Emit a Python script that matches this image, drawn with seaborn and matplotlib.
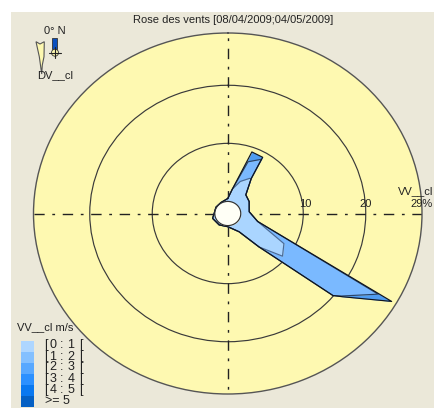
import numpy as np
import pandas as pd
import matplotlib
matplotlib.use("Agg")
import matplotlib.pyplot as plt
from matplotlib.colors import ListedColormap
from matplotlib.patches import Polygon, Rectangle, Circle
import seaborn as sns

# wind direction in degrees, and share (%) of each speed class
directions = [0, 10, 20, 30, 32, 42, 59, 85, 106, 120, 128, 130, 139, 150, 180, 215, 251, 270, 300, 330, 360]
speed_0_1 = [0.5, 2.2, 3.8, 4.9, 5.0, 2.24, 1.92, 1.37, 2.9, 8.3, 9.1, 9.35, 5.55, 1.55, 0.19, 0.32, 0.49, 0.1, 0.1, 0.1, 0.5]
speed_1_2 = [0, 0, 3.6, 3.8, 0, 0, 0, 0, 0, 17.4, 11.9, 10.55, 0, 0, 0, 0, 0, 0, 0, 0, 0]
speed_2_3 = [0, 0, 1.8, 0.4, 0, 0, 0, 0, 0, 2.5, 0.2, 0, 0, 0, 0, 0, 0, 0, 0, 0, 0]

ring_ticks = [10, 20]
r_max = 29
r_hole = -2.08

class_labels = [("0", "1"), ("1", "2"), ("2", "3"), ("3", "4"), ("4", "5")]
legend_colors = ["#aed6ff", "#84c0ff", "#58a8ff", "#2c90ff", "#0a78f0", "#0560c4"]
fill_colors = ["#aad5ff", "#7ab9ff", "#4f9cf0"]
line_colors = ["#4a6a96", "#2a4468", "#10151f"]

sns.set_style("white")
plt.rcParams["font.family"] = ["Liberation Sans", "DejaVu Sans"]

W, H = 434, 408
fig = plt.figure(figsize=(W / 100, H / 100), dpi=100, facecolor="white")

# beige panel behind everything
bg = fig.add_axes([0, 0, 1, 1], zorder=0)
bg.set_xlim(0, W)
bg.set_ylim(H, 0)
bg.axis("off")
bg.add_patch(Rectangle((11, 12), W - 11, H - 12, color="#ebe8d9", lw=0))

# rose, slightly squashed like the original window
ax = fig.add_axes([33.5 / W, (H - 394) / H, 388.5 / W, 361 / H], projection="polar", zorder=1)
ax.set_aspect("auto")
ax.set_theta_zero_location("N")
ax.set_theta_direction(-1)
ax.set_facecolor("#fef9b1")

theta = np.deg2rad(directions)
stack = np.cumsum([speed_0_1, speed_1_2, speed_2_3], axis=0)

# dash-dot cross
for d in [0, 90, 180, 270]:
    ax.plot([np.deg2rad(d)] * 2, [0, r_max], color="#222222", lw=1.0,
            dashes=(7.5, 5.5, 2, 5.5), zorder=1)

lower = np.zeros(len(directions))
for i in range(3):
    ax.fill_between(theta, lower, stack[i], color=fill_colors[i], lw=0, zorder=2)
    lower = stack[i]

for i in range(3):
    df = pd.DataFrame({"theta": theta, "r": stack[i]})
    sns.lineplot(data=df, x="theta", y="r", sort=False, estimator=None, ax=ax,
                 color=line_colors[i], lw=0.85, zorder=3)

# hole in the middle
t_hole = np.linspace(0, 2 * np.pi, 120)
ax.fill_between(t_hole, r_hole, 0, color="#fffff6", lw=0, zorder=4)
ax.plot(t_hole, np.zeros(120), color="#333333", lw=0.85, zorder=5)

ax.set_xlabel("")
ax.set_ylabel("")
ax.set_xticks([])
ax.set_yticks(ring_ticks)
ax.set_yticklabels([])
ax.yaxis.grid(True, color="#3a3a3a", lw=0.85)
ax.tick_params(length=0)
ax.set_ylim(r_hole, r_max)
ax.spines["polar"].set_color("#555555")
ax.spines["polar"].set_linewidth(1.0)

# texts and little icons, in image pixels
ov = fig.add_axes([0, 0, 1, 1], zorder=2)
ov.set_xlim(0, W)
ov.set_ylim(H, 0)
ov.axis("off")
txt = dict(color="#222222", fontsize=8, ha="center", va="center")

ov.text(233, 20, "Rose des vents [08/04/2009;04/05/2009]", **txt)
ov.text(305, 204, "10", **txt)
ov.text(366, 204, "20", **txt)
ov.text(433, 204, "29%", color="#222222", fontsize=8, ha="right", va="center")
ov.text(433, 191, "VV__cl", color="#222222", fontsize=8, ha="right", va="center")

ov.text(54.5, 31, "0° N", **txt)
ov.text(55, 75.5, "DV__cl", **txt)
ov.add_patch(Polygon([(36, 41.7), (40, 44), (44.3, 41.7), (44, 56.7), (42.3, 65), (41.7, 74), (39.3, 56.7)],
                     facecolor="#fdf8b0", edgecolor="#555555", lw=0.8))
ov.add_patch(Rectangle((51.7, 37.7), 5.6, 11.3, facecolor="#0a50c0", edgecolor="#333333", lw=0.6))
ov.add_patch(Circle((55, 52.7), 3.5, facecolor="#fdf8b0", edgecolor="#333333", lw=0.6))
ov.plot([49, 61], [52.7, 52.7], color="#222222", lw=0.8)
ov.plot([55, 55], [47, 58], color="#222222", lw=0.8)

# legend
ov.text(17, 327, "VV__cl m/s", color="#222222", fontsize=8, ha="left", va="center")
leg = fig.add_axes([21 / W, (H - 407) / H, 13 / W, 66 / H], zorder=2)
sns.heatmap(np.arange(6).reshape(6, 1), cmap=ListedColormap(legend_colors), cbar=False,
            xticklabels=False, yticklabels=False, ax=leg)

row_txt = dict(color="#222222", fontsize=9, ha="center", va="center")
row_y = [345, 356.5, 367.5, 379, 390]
for y, (lo, hi) in zip(row_y, class_labels):
    ov.text(45.5, y, "[", **row_txt)
    ov.text(53, y, lo, **row_txt)
    ov.text(62, y, ":", **row_txt)
    ov.text(71, y, hi, **row_txt)
    ov.text(80.5, y, "[", **row_txt)
ov.text(45, 401, ">= 5", color="#222222", fontsize=9, ha="left", va="center")

fig.savefig("out.png", dpi=100)
